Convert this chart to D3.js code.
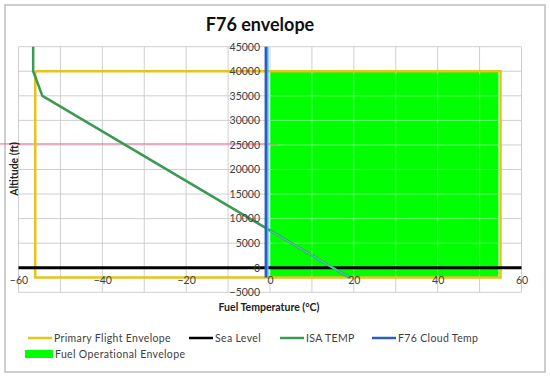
<!DOCTYPE html>
<html><head><meta charset="utf-8">
<script src="https://cdn.jsdelivr.net/npm/d3@7"></script>
<style>
html,body{margin:0;padding:0;background:#fff;}
text{font-family:Lato,"Liberation Sans",sans-serif;}
</style></head>
<body>
<svg id="c" width="550" height="376"></svg>
<script>
// ---- data ----
const title = "F76 envelope";
const xTitle = "Fuel Temperature (°C)";
const yTitle = "Altitude (ft)";
const xTicks = [-60, -40, -20, 0, 20, 40, 60];
const yTicks = [-5000, 0, 5000, 10000, 15000, 20000, 25000, 30000, 35000, 40000, 45000];
const xGrid = [-60, -50, -40, -30, -20, -10, 0, 10, 20, 30, 40, 50, 60];

const flightEnvTemp = [-56, 55, 55, -56, -56];
const flightEnvAlt  = [40000, 40000, -2000, -2000, 40000];
const fuelEnvTemp = [0, 54.5];
const fuelEnvTop = [40000, 40000];
const fuelEnvBottom = [-2000, -2000];
const seaLevelTemp = [-60, 60];
const seaLevelAlt = [0, 0];
const isaTemp = [19, 15, -54.3, -56.5, -56.5];
const isaAlt  = [-2000, 0, 35000, 40000, 45000];
const cloudTemp = [-1, -1];
const cloudAlt = [-2000, 45000];
const markAlt = 25000;

const legendItems = ["Primary Flight Envelope", "Sea Level", "ISA TEMP", "F76 Cloud Temp", "Fuel Operational Envelope"];
const colors = {env:"#E8C31C", sea:"#000000", isa:"#3A9A52", cloud:"#2A5EC2", fuel:"#00FF00"};

// ---- drawing ----
const svg = d3.select("#c");
const x = d3.scaleLinear().domain([-60, 60]).range([18.5, 521.5]);
const y = d3.scaleLinear().domain([-5000, 45000]).range([292.3, 46.7]);

// outer frame
svg.append("rect").attr("x", 5).attr("y", 5).attr("width", 540).attr("height", 367)
  .attr("fill", "#fff").attr("stroke", "#BFBFBF").attr("stroke-width", 1.5);

// title
svg.append("text").attr("x", 260).attr("y", 31).attr("text-anchor", "middle")
  .attr("font-size", 18).attr("font-weight", "bold").attr("fill", "#111").text(title);

// gridlines
const grid = svg.append("g").attr("stroke", "#CFCFCF").attr("stroke-width", 1);
grid.selectAll("line.v").data(xGrid).join("line").attr("class", "v")
  .attr("x1", d => x(d)).attr("x2", d => x(d)).attr("y1", y(-5000)).attr("y2", y(45000));
grid.selectAll("line.h").data(yTicks).join("line").attr("class", "h")
  .attr("x1", x(-60)).attr("x2", x(60)).attr("y1", d => y(d)).attr("y2", d => y(d));

// fuel operational envelope (area)
const area = d3.area().x((d, i) => x(fuelEnvTemp[i])).y0((d, i) => y(fuelEnvBottom[i])).y1((d, i) => y(fuelEnvTop[i]));
svg.append("path").attr("d", area(fuelEnvTemp)).attr("fill", colors.fuel);

// light gridlines over green
const clip = svg.append("clipPath").attr("id", "gclip");
clip.append("path").attr("d", area(fuelEnvTemp));
const g2 = svg.append("g").attr("clip-path", "url(#gclip)").attr("stroke", "#fff").attr("stroke-opacity", 0.4);
g2.selectAll("line.v").data(xGrid).join("line")
  .attr("x1", d => x(d)).attr("x2", d => x(d)).attr("y1", y(-5000)).attr("y2", y(45000));
g2.selectAll("line.h").data(yTicks).join("line")
  .attr("x1", x(-60)).attr("x2", x(60)).attr("y1", d => y(d)).attr("y2", d => y(d));

// 25000 ft mark line
svg.append("line").attr("x1", 0).attr("x2", x(2)).attr("y1", y(markAlt) - 1).attr("y2", y(markAlt) - 1)
  .attr("stroke", "#F2609A").attr("stroke-width", 1);

// primary flight envelope
const line = d3.line().x(d => x(d[0])).y(d => y(d[1]));
svg.append("path").attr("d", line(flightEnvTemp.map((t, i) => [t, flightEnvAlt[i]])))
  .attr("fill", "none").attr("stroke", colors.env).attr("stroke-width", 2.5);

// sea level
svg.append("path").attr("d", line(seaLevelTemp.map((t, i) => [t, seaLevelAlt[i]])))
  .attr("fill", "none").attr("stroke", colors.sea).attr("stroke-width", 3);

// ISA temp
const isaPts = isaTemp.map((t, i) => [t, isaAlt[i]]);
svg.append("path").attr("d", line(isaPts)).attr("fill", "none")
  .attr("stroke", colors.isa).attr("stroke-width", 2.5).attr("stroke-linejoin", "round");
svg.append("path").attr("d", line(isaPts)).attr("fill", "none").attr("clip-path", "url(#gclip)")
  .attr("stroke", "#48C4A8").attr("stroke-width", 1.5);

// F76 cloud temp
const cloudPts = cloudTemp.map((t, i) => [t, cloudAlt[i]]);
svg.append("path").attr("d", line(cloudPts)).attr("transform", "translate(2,0)")
  .attr("fill", "none").attr("stroke", "#37B6D6").attr("stroke-width", 1.5);
svg.append("path").attr("d", line(cloudPts)).attr("fill", "none")
  .attr("stroke", colors.cloud).attr("stroke-width", 2.5);

// axes
const yAxis = d3.axisLeft(y).tickValues(yTicks).tickSize(0).tickPadding(10).tickFormat(d3.format("d"));
const gy = svg.append("g").attr("transform", `translate(${x(0)},0)`).call(yAxis);
gy.select(".domain").remove();
gy.selectAll("text").attr("font-size", 10.5).attr("fill", "#404040").attr("font-family", "Lato");

const xAxis = d3.axisBottom(x).tickValues(xTicks).tickSize(0).tickPadding(9).tickFormat(d3.format("d"));
const gx = svg.append("g").attr("transform", `translate(0,${y(0)})`).call(xAxis);
gx.select(".domain").remove();
gx.selectAll("text").attr("font-size", 10.5).attr("fill", "#404040").attr("font-family", "Lato");

// axis titles
svg.append("text").attr("x", 269).attr("y", 311).attr("text-anchor", "middle")
  .attr("font-size", 10.5).attr("font-weight", "bold").attr("fill", "#222").text(xTitle);
svg.append("text").attr("transform", "translate(18,169) rotate(-90)").attr("text-anchor", "middle")
  .attr("font-size", 10.5).attr("font-weight", "bold").attr("fill", "#222").text(yTitle);

// legend
const leg = svg.append("g");
const legPos = [[28, 338], [189, 338], [280, 338], [372, 338], [25, 354]];
const legColor = [colors.env, colors.sea, colors.isa, colors.cloud, colors.fuel];
legendItems.forEach((name, i) => {
  const [lx, ly] = legPos[i];
  if (i < 4) {
    leg.append("line").attr("x1", lx).attr("x2", lx + 24).attr("y1", ly).attr("y2", ly)
      .attr("stroke", legColor[i]).attr("stroke-width", 2.5);
    leg.append("text").attr("x", lx + 26).attr("y", ly).attr("dy", "0.35em")
      .attr("font-size", 10.5).attr("letter-spacing", "0.35px").attr("fill", "#404040").text(name);
  } else {
    leg.append("rect").attr("x", lx).attr("y", ly - 4).attr("width", 28).attr("height", 8).attr("fill", legColor[i]);
    leg.append("text").attr("x", lx + 30).attr("y", ly).attr("dy", "0.35em")
      .attr("font-size", 10.5).attr("letter-spacing", "0.35px").attr("fill", "#404040").text(name);
  }
});
</script>
</body></html>
